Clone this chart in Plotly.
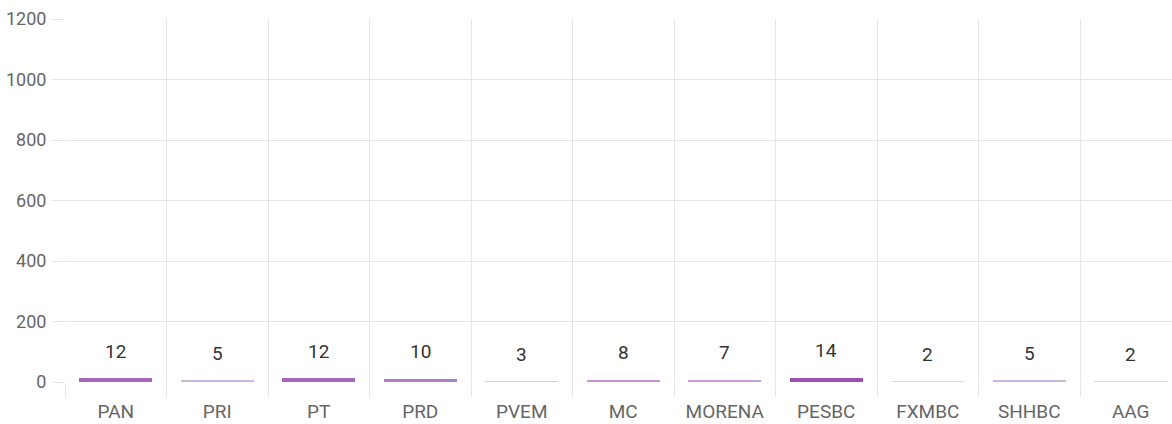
import plotly.graph_objects as go

parties = ["PAN", "PRI", "PT", "PRD", "PVEM", "MC", "MORENA", "PESBC", "FXMBC", "SHHBC", "AAG"]
values = [12, 5, 12, 10, 3, 8, 7, 14, 2, 5, 2]
y_ticks = [0, 200, 400, 600, 800, 1000, 1200]

vmax = max(values)
colors = [f"rgba(150,82,180,{0.12 + 0.88 * v / vmax:.3f})" for v in values]
xs = list(range(len(parties)))

FONT = "Roboto"
GRID = "#e5e5e5"
FS = 19

fig = go.Figure()
fig.add_trace(go.Bar(
    x=xs, y=values, width=0.72,
    marker=dict(color=colors, line=dict(width=0)),
    hoverinfo="skip",
))

for x, v in zip(xs, values):
    fig.add_annotation(x=x, y=v, text=str(v), showarrow=False,
                       yanchor="middle", yshift=27,
                       font=dict(family=FONT, size=FS, color="#333333"))

fig.update_layout(
    width=1172, height=424, autosize=False,
    margin=dict(l=65, r=0, t=19, b=42),
    paper_bgcolor="white", plot_bgcolor="white",
    showlegend=False,
    font=dict(family=FONT, size=FS, color="#666666"),
    bargap=0,
)
fig.update_xaxes(
    range=[-0.5, -0.5 + (1172 - 65) / 101.5],
    tickmode="array", tickvals=xs, ticktext=parties,
    ticks="", showgrid=False, zeroline=False, showline=False,
    ticklabelstandoff=16,
    tickfont=dict(family=FONT, size=FS, color="#666666"),
    minor=dict(tickmode="array", tickvals=[i - 0.5 for i in range(len(parties) + 1)],
               showgrid=True, gridcolor=GRID, gridwidth=1,
               ticks="outside", ticklen=14, tickcolor=GRID, tickwidth=1),
)
fig.update_yaxes(
    range=[0, 1200], tickmode="array", tickvals=y_ticks,
    showgrid=True, gridcolor=GRID, gridwidth=1, zeroline=False, showline=False,
    ticks="outside", ticklen=12, tickcolor=GRID, tickwidth=1,
    ticklabelstandoff=2,
    tickfont=dict(family=FONT, size=18, color="#666666"),
)

fig.write_html("out.html", config={"displayModeBar": False},
               post_script="document.body.style.margin='0';document.body.style.overflow='hidden';")
